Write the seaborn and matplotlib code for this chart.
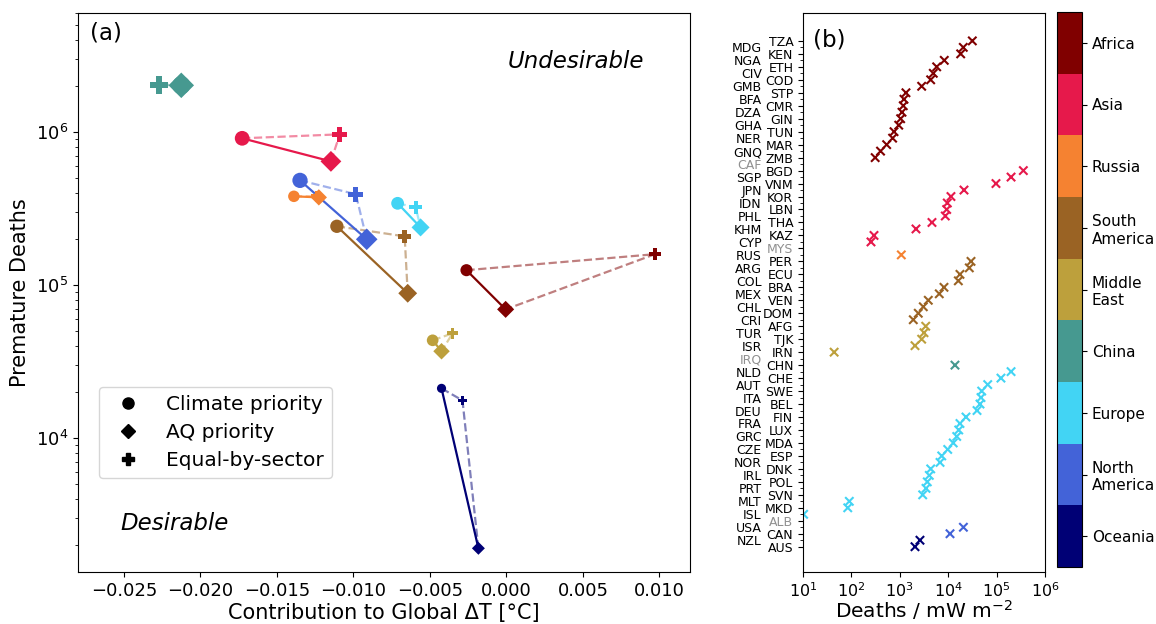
import numpy as np
import pandas as pd
import matplotlib
matplotlib.use("Agg")
import matplotlib.pyplot as plt
from matplotlib.colors import ListedColormap, BoundaryNorm
from matplotlib.cm import ScalarMappable
from matplotlib.lines import Line2D
from matplotlib.ticker import NullLocator, FixedLocator
import seaborn as sns

# ---------------------------------------------------------------- data
regions = ["Africa", "Asia", "Russia", "South America", "Middle East",
           "China", "Europe", "North America", "Oceania"]
region_labels = ["Africa", "Asia", "Russia", "South\nAmerica", "Middle\nEast",
                 "China", "Europe", "North\nAmerica", "Oceania"]
region_colors = ["#800000", "#e6194b", "#f58231", "#9a6324", "#bda03c",
                 "#469990", "#42d4f4", "#4363d8", "#000075"]

scenarios = ["Climate priority", "AQ priority", "Equal-by-sector"]

# panel (a): contribution to global dT [degC] and premature deaths per scenario
dT_climate = [-0.00261, -0.01727, -0.01389, -0.01108, -0.00482, -0.02125, -0.00711, -0.01349, -0.00424]
dT_aq      = [-0.00005, -0.01147, -0.01226, -0.00645, -0.00424, -0.02125, -0.00561, -0.00913, -0.00183]
dT_equal   = [0.00971, -0.01089, -0.01239, -0.00665, -0.00352, -0.02269, -0.00593, -0.00984, -0.00287]
deaths_climate = [1.25e5, 9.10e5, 3.80e5, 2.42e5, 4.35e4, 2.02e6, 3.42e5, 4.83e5, 2.11e4]
deaths_aq      = [6.93e4, 6.43e5, 3.74e5, 8.83e4, 3.69e4, 2.02e6, 2.38e5, 1.99e5, 1.90e3]
deaths_equal   = [1.59e5, 9.66e5, 3.80e5, 2.08e5, 4.83e4, 2.02e6, 3.22e5, 3.92e5, 1.76e4]

# panel (b): deaths per unit forcing, by country (nan = no value)
africa_iso = ["TZA", "MDG", "KEN", "NGA", "ETH", "CIV", "COD", "GMB", "STP", "BFA",
              "CMR", "DZA", "GIN", "GHA", "TUN", "NER", "MAR", "GNQ", "ZMB", "CAF"]
africa_val = [31500, 20500, 18100, 8300, 5780, 4920, 4340, 2830, 1340, 1220,
              1180, 1110, 1040, 950, 760, 710, 535, 400, 310, np.nan]
asia_iso = ["BGD", "SGP", "VNM", "JPN", "KOR", "IDN", "LBN", "PHL", "THA", "KHM",
            "KAZ", "CYP", "MYS"]
asia_val = [357000, 199000, 97000, 21200, 11400, 9580, 9300, 8710, 4620, 2160,
            293, 254, np.nan]
russia_iso = ["RUS"]
russia_val = [1075]
samerica_iso = ["PER", "ARG", "ECU", "COL", "BRA", "MEX", "VEN", "CHL", "DOM", "CRI"]
samerica_val = [29600, 27300, 17500, 16200, 8180, 6540, 3880, 3060, 2410, 1900]
mideast_iso = ["AFG", "TUR", "TJK", "ISR", "IRN", "IRQ"]
mideast_val = [3430, 3160, 2830, 2060, 44, np.nan]
china_iso = ["CHN"]
china_val = [13800]
europe_iso = ["NLD", "CHE", "AUT", "SWE", "ITA", "BEL", "DEU", "FIN", "FRA", "LUX",
              "GRC", "MDA", "CZE", "ESP", "NOR", "DNK", "IRL", "POL", "PRT", "SVN",
              "MLT", "MKD", "ISL", "ALB"]
europe_val = [199000, 123000, 65500, 49200, 47600, 45400, 39400, 23300, 17500, 16500,
              15000, 12700, 9770, 7350, 6780, 4350, 4070, 3700, 3480, 2970,
              90.6, 84, 10.3, np.nan]
namerica_iso = ["USA", "CAN"]
namerica_val = [20600, 10900]
oceania_iso = ["NZL", "AUS"]
oceania_val = [2610, 2060]

# ---------------------------------------------------------------- styling
marker_pt = [8.7, 10.6, 8.3, 9.6, 8.4, 13.0, 9.2, 11.0, 6.6]
scenario_markers = {"Climate priority": "o", "AQ priority": "D", "Equal-by-sector": "P"}
palette = dict(zip(regions, region_colors))

W, H = 1156, 624
fig = plt.figure(figsize=(W / 100, H / 100), dpi=100)
ax_a = fig.add_axes([78 / W, 1 - 572 / H, (690 - 78) / W, (572 - 13) / H])
ax_b = fig.add_axes([803 / W, 1 - 572 / H, (1045 - 803) / W, (572 - 13) / H])
cax = fig.add_axes([1057 / W, 1 - 567 / H, 25 / W, (567 - 12) / H])

# ---------------------------------------------------------------- panel (a)
ax_a.set_yscale("log")
for i, reg in enumerate(regions):
    c = region_colors[i]
    xs = [dT_climate[i], dT_aq[i], dT_equal[i]]
    ys = [deaths_climate[i], deaths_aq[i], deaths_equal[i]]
    solid = pd.DataFrame({"x": xs[:2], "y": ys[:2]})
    dashed = pd.DataFrame({"x": [xs[0], xs[2], xs[1]], "y": [ys[0], ys[2], ys[1]]})
    sns.lineplot(data=dashed, x="x", y="y", sort=False, estimator=None, color=c,
                 linewidth=1.6, linestyle="--", alpha=0.5, ax=ax_a, zorder=1)
    sns.lineplot(data=solid, x="x", y="y", sort=False, estimator=None, color=c,
                 linewidth=1.6, ax=ax_a, zorder=2)
    pts = pd.DataFrame({"x": xs, "y": ys, "scenario": scenarios})
    sns.scatterplot(data=pts, x="x", y="y", style="scenario", markers=scenario_markers,
                    color=c, s=marker_pt[i] ** 2, linewidth=0, legend=False,
                    ax=ax_a, zorder=3)

ax_a.set_xlim(-0.028, 0.012)
ax_a.set_ylim(1330, 6.0e6)
ax_a.xaxis.set_major_locator(FixedLocator(np.arange(-0.025, 0.0101, 0.005)))
ax_a.xaxis.set_minor_locator(NullLocator())
ax_a.tick_params(labelsize=13)
ax_a.set_xlabel("Contribution to Global ΔT [°C]", fontsize=15, labelpad=2)
ax_a.set_ylabel("Premature Deaths", fontsize=15)

ax_a.text(0.02, 0.965, "(a)", transform=ax_a.transAxes, fontsize=16.5,
          ha="left", va="center")
ax_a.text(0.814, 0.914, "Undesirable", transform=ax_a.transAxes, fontsize=16.5,
          style="italic", ha="center", va="center")
ax_a.text(0.158, 0.086, "Desirable", transform=ax_a.transAxes, fontsize=16.5,
          style="italic", ha="center", va="center")

handles = [Line2D([], [], color="k", marker=scenario_markers[s], linestyle="",
                  markersize=8 if s != "AQ priority" else 7.5) for s in scenarios]
ax_a.legend(handles, scenarios, loc="lower left", bbox_to_anchor=(0.035, 0.168),
            borderaxespad=0, fontsize=14.5, handletextpad=0.9, labelspacing=0.45)

# ---------------------------------------------------------------- panel (b)
iso_groups = [africa_iso, asia_iso, russia_iso, samerica_iso, mideast_iso,
              china_iso, europe_iso, namerica_iso, oceania_iso]
val_groups = [africa_val, asia_val, russia_val, samerica_val, mideast_val,
              china_val, europe_val, namerica_val, oceania_val]
rows = []
for reg, isos, vals in zip(regions, iso_groups, val_groups):
    for iso, v in zip(isos, vals):
        rows.append((iso, reg, v))
df_b = pd.DataFrame(rows, columns=["iso", "region", "value"])
df_b["row"] = np.arange(len(df_b))

ax_b.set_xscale("log")
sns.scatterplot(data=df_b.dropna(), x="value", y="row", hue="region", palette=palette,
                marker="x", s=36, linewidth=1.5, legend=False, ax=ax_b)
ax_b.set_xlim(10, 1e6)
ax_b.set_ylim(81.9, -4.3)
ax_b.xaxis.set_major_locator(FixedLocator([1e1, 1e2, 1e3, 1e4, 1e5, 1e6]))
ax_b.xaxis.set_minor_locator(NullLocator())
ax_b.tick_params(axis="x", labelsize=11.5)

n = len(df_b)
major_rows = np.arange(0, n, 2)
minor_rows = np.arange(1, n, 2)
ax_b.set_yticks(major_rows)
ax_b.set_yticklabels(df_b["iso"].values[major_rows])
ax_b.set_yticks(minor_rows, minor=True)
ax_b.set_yticklabels(df_b["iso"].values[minor_rows], minor=True)
ax_b.tick_params(axis="y", which="major", labelsize=9, length=3.5, pad=3.5)
ax_b.tick_params(axis="y", which="minor", labelsize=9, length=2, pad=27.7)
missing = set(df_b.loc[df_b["value"].isna(), "iso"])
for lbl in ax_b.get_yticklabels() + ax_b.get_yticklabels(minor=True):
    if lbl.get_text() in missing:
        lbl.set_color("#909090")
ax_b.set_xlabel("Deaths / mW m$^{-2}$", fontsize=14.5, labelpad=-1.5)
ax_b.set_ylabel("")
ax_b.text(0.04, 0.952, "(b)", transform=ax_b.transAxes, fontsize=16.5,
          ha="left", va="center")

# ---------------------------------------------------------------- colour bar
cmap = ListedColormap(region_colors[::-1])
norm = BoundaryNorm(np.arange(len(regions) + 1) - 0.5, len(regions))
cb = fig.colorbar(ScalarMappable(norm=norm, cmap=cmap), cax=cax,
                  ticks=np.arange(len(regions)))
cb.set_ticklabels(region_labels[::-1])
cb.ax.tick_params(labelsize=11, length=3.5)
cb.ax.minorticks_off()

fig.savefig("out.png", dpi=100)
